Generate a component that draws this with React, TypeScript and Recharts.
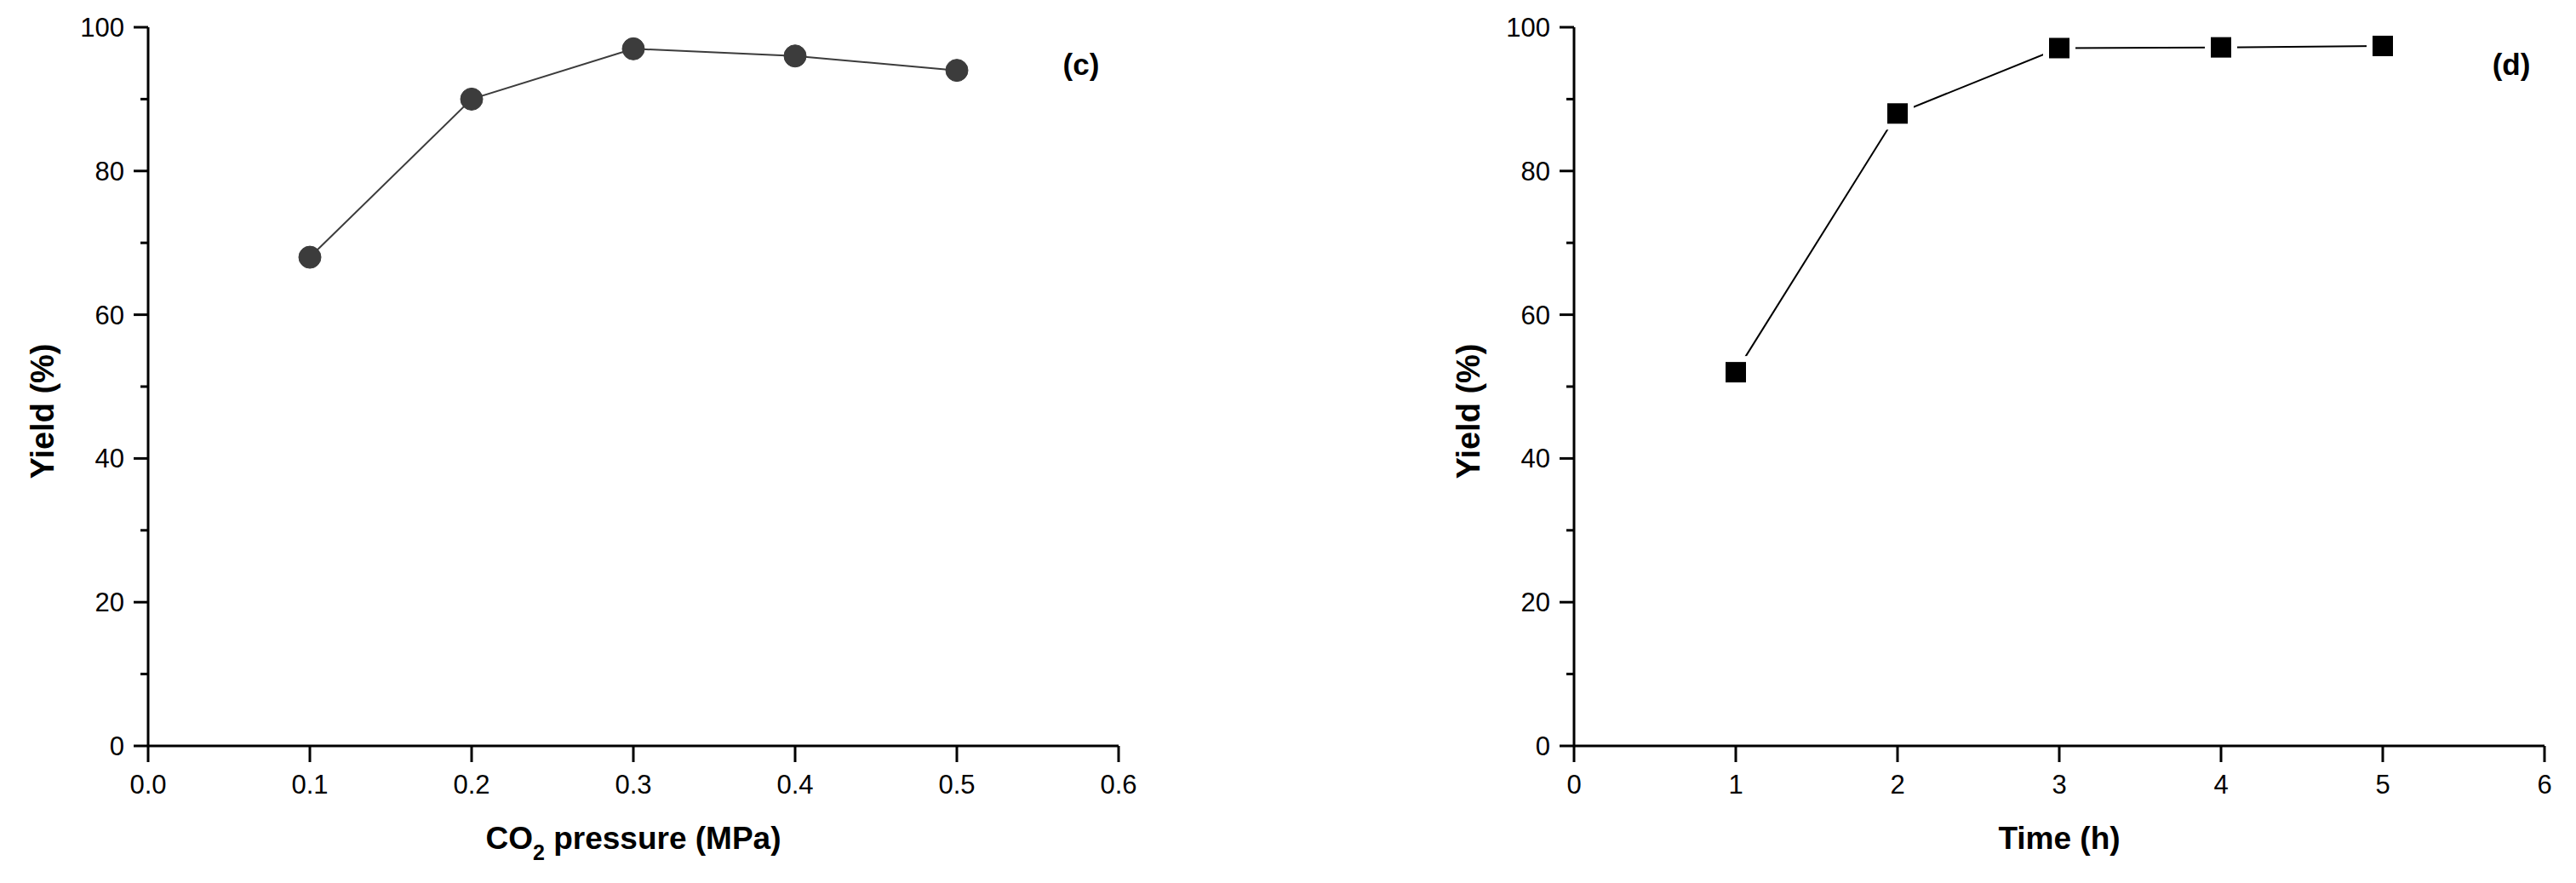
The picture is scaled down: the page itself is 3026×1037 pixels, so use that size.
import React from 'react';
import { LineChart, Line, XAxis, YAxis } from 'recharts';

// ---- data ----
const pressureMPa = [0.1, 0.2, 0.3, 0.4, 0.5];
const pressureYield = [68, 90, 97, 96, 94];
const timeH = [1, 2, 3, 4, 5];
const timeYield = [52, 88, 97.1, 97.2, 97.4];

const pressureTicks = [0, 0.1, 0.2, 0.3, 0.4, 0.5, 0.6];
const pressureTickLabels = ['0.0', '0.1', '0.2', '0.3', '0.4', '0.5', '0.6'];
const timeTicks = [0, 1, 2, 3, 4, 5, 6];
const timeTickLabels = ['0', '1', '2', '3', '4', '5', '6'];
const yieldTicks = [0, 10, 20, 30, 40, 50, 60, 70, 80, 90, 100];
const yieldMajor = [0, 20, 40, 60, 80, 100];

const pressureData = pressureMPa.map((x, i) => ({ x, y: pressureYield[i] }));
const timeData = timeH.map((x, i) => ({ x, y: timeYield[i] }));

const FONT = '"Liberation Sans", Arial, Helvetica, sans-serif';
const AXIS_W = 3;
const TOP = 32;

const YTick = (props: any) => {
  const { x, y, payload } = props;
  const v = payload.value;
  const major = yieldMajor.includes(v);
  return (
    <g>
      <line x1={x - (major ? 17 : 9)} x2={x} y1={y} y2={y} stroke="#000" strokeWidth={3} />
      {major && (
        <text x={x - 28} y={y + 11} textAnchor="end" fontFamily={FONT} fontSize={31} fill="#000">
          {String(v)}
        </text>
      )}
    </g>
  );
};

const makeXTick = (labels: string[], ticks: number[]) => (props: any) => {
  const { x, y, payload } = props;
  const idx = ticks.indexOf(payload.value);
  return (
    <g>
      <line x1={x} x2={x} y1={y} y2={y + 19} stroke="#000" strokeWidth={3} />
      <text x={x} y={y + 56} textAnchor="middle" fontFamily={FONT} fontSize={31} fill="#000">
        {idx >= 0 ? labels[idx] : String(payload.value)}
      </text>
    </g>
  );
};

const yLabel = (baseX: number) => (props: any) => {
  const vb = props.viewBox;
  const cx = vb.x + baseX;
  const cy = vb.y + vb.height / 2 + 29;
  return (
    <text
      x={cx}
      y={cy}
      transform={`rotate(-90 ${cx} ${cy})`}
      textAnchor="middle"
      fontFamily={FONT}
      fontWeight="bold"
      fontSize={38}
      fill="#000"
    >
      Yield (%)
    </text>
  );
};

const PanelTag = ({ x, text }: { x: number; text: string }) => (
  <text x={x} y={TOP + 56} textAnchor="middle" fontFamily={FONT} fontWeight="bold" fontSize={35} fill="#000">
    {text}
  </text>
);

const xLabelCO2 = (props: any) => {
  const vb = props.viewBox;
  const cx = vb.x + vb.width / 2;
  const cy = vb.y + 121;
  return (
    <g>
      <text x={cx} y={cy} textAnchor="middle" fontFamily={FONT} fontWeight="bold" fontSize={37} fill="#000">
        <tspan>CO</tspan>
        <tspan dy={13} fontSize={25}>2</tspan>
        <tspan dy={-13}> pressure (MPa)</tspan>
      </text>
      <PanelTag x={vb.x + vb.width - 44} text="(c)" />
    </g>
  );
};

const xLabelTime = (props: any) => {
  const vb = props.viewBox;
  const cx = vb.x + vb.width / 2;
  const cy = vb.y + 121;
  return (
    <g>
      <text x={cx} y={cy} textAnchor="middle" fontFamily={FONT} fontWeight="bold" fontSize={37} fill="#000">
        Time (h)
      </text>
      <PanelTag x={vb.x + vb.width - 39} text="(d)" />
    </g>
  );
};

const CircleDot = (props: any) => {
  const { cx, cy, index } = props;
  if (cx == null || cy == null) return <g key={index} />;
  return <circle key={index} cx={cx} cy={cy} r={13} fill="#3c3c3c" stroke="#3c3c3c" strokeWidth={1} />;
};

const SquareDot = (props: any) => {
  const { cx, cy, index } = props;
  if (cx == null || cy == null) return <g key={index} />;
  return (
    <g key={index}>
      <rect x={cx - 19} y={cy - 19} width={38} height={38} fill="#fff" />
      <rect x={cx - 12} y={cy - 12} width={24} height={24} fill="#000" />
    </g>
  );
};

const axisLine = { stroke: '#000', strokeWidth: AXIS_W };

export default function App() {
  return (
    <div style={{ position: 'absolute', left: 0, top: 0, width: 3026, height: 1037, background: '#fff' }}>
      <div style={{ position: 'absolute', left: 0, top: 0 }}>
        <LineChart width={1500} height={1037} data={pressureData} margin={{ top: TOP, right: 186, bottom: 0, left: 0 }}>
          <XAxis
            dataKey="x"
            type="number"
            domain={[0, 0.6]}
            ticks={pressureTicks}
            interval={0}
            height={161}
            tickSize={0}
            tickMargin={0}
            tickLine={false}
            axisLine={axisLine}
            tick={makeXTick(pressureTickLabels, pressureTicks)}
            label={xLabelCO2}
          />
          <XAxis
            xAxisId="top"
            orientation="top"
            type="number"
            domain={[0, 0.6]}
            height={0}
            tick={false}
            tickLine={false}
            axisLine={axisLine}
          />
          <YAxis
            type="number"
            domain={[0, 100]}
            ticks={yieldTicks}
            interval={0}
            width={174}
            tickSize={0}
            tickMargin={0}
            tickLine={false}
            axisLine={axisLine}
            tick={YTick}
            label={yLabel(63)}
          />
          <YAxis
            yAxisId="right"
            orientation="right"
            type="number"
            domain={[0, 100]}
            width={0}
            tick={false}
            tickLine={false}
            axisLine={axisLine}
          />
          <Line
            dataKey="y"
            type="linear"
            stroke="#3c3c3c"
            strokeWidth={2}
            dot={CircleDot}
            activeDot={false}
            isAnimationActive={false}
          />
        </LineChart>
      </div>
      <div style={{ position: 'absolute', left: 1500, top: 0 }}>
        <LineChart width={1526} height={1037} data={timeData} margin={{ top: TOP, right: 37, bottom: 0, left: 0 }}>
          <XAxis
            dataKey="x"
            type="number"
            domain={[0, 6]}
            ticks={timeTicks}
            interval={0}
            height={161}
            tickSize={0}
            tickMargin={0}
            tickLine={false}
            axisLine={axisLine}
            tick={makeXTick(timeTickLabels, timeTicks)}
            label={xLabelTime}
          />
          <XAxis
            xAxisId="top"
            orientation="top"
            type="number"
            domain={[0, 6]}
            height={0}
            tick={false}
            tickLine={false}
            axisLine={axisLine}
          />
          <YAxis
            type="number"
            domain={[0, 100]}
            ticks={yieldTicks}
            interval={0}
            width={349}
            tickSize={0}
            tickMargin={0}
            tickLine={false}
            axisLine={axisLine}
            tick={YTick}
            label={yLabel(238)}
          />
          <YAxis
            yAxisId="right"
            orientation="right"
            type="number"
            domain={[0, 100]}
            width={0}
            tick={false}
            tickLine={false}
            axisLine={axisLine}
          />
          <Line
            dataKey="y"
            type="linear"
            stroke="#000"
            strokeWidth={2}
            dot={SquareDot}
            activeDot={false}
            isAnimationActive={false}
          />
        </LineChart>
      </div>
    </div>
  );
}
